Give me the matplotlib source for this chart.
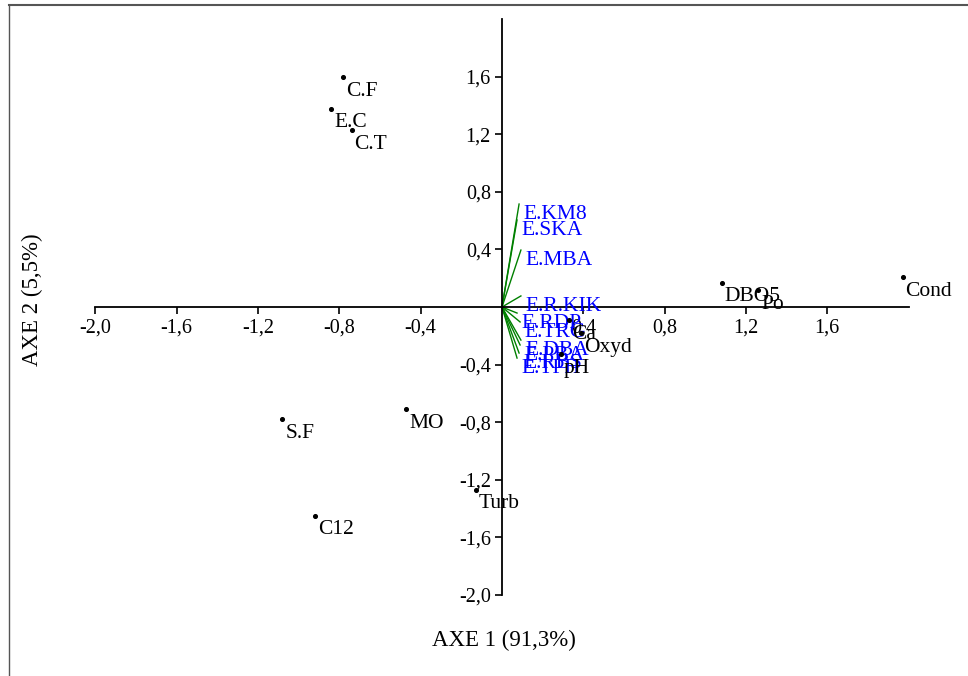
import matplotlib
matplotlib.use('Agg')
import matplotlib.pyplot as plt
from matplotlib.lines import Line2D

plt.rcParams['font.family'] = ['Liberation Serif', 'DejaVu Serif']

# variables (black points)
var_names = ['C.F', 'E.C', 'C.T', 'S.F', 'MO', 'Turb', 'C12', 'DBO5', 'Po', 'Cond', 'Ca', 'Oxyd', 'pH']
var_x = [-0.78, -0.84, -0.74, -1.08, -0.47, -0.13, -0.92, 1.08, 1.26, 1.97, 0.33, 0.39, 0.29]
var_y = [1.60, 1.38, 1.23, -0.78, -0.71, -1.27, -1.45, 0.17, 0.12, 0.21, -0.09, -0.18, -0.33]

# species (green vectors, blue labels)
sp_names = ['E.KM8', 'E.SKA', 'E.MBA', 'E.R.KIK', 'E.RDP', 'E.TRG', 'E.DBA', 'E.PBA', 'E.RBS', 'E.TPH']
sp_x = [0.084, 0.074, 0.093, 0.093, 0.074, 0.089, 0.093, 0.089, 0.084, 0.074]
sp_y = [0.716, 0.605, 0.396, 0.077, -0.042, -0.104, -0.23, -0.264, -0.32, -0.355]

xticks = [-2.0, -1.6, -1.2, -0.8, -0.4, 0.4, 0.8, 1.2, 1.6]
yticks = [-2.0, -1.6, -1.2, -0.8, -0.4, 0.4, 0.8, 1.2, 1.6]

fs_tick = 14.5
fs_pt = 15.5
fs_axis = 16.5

fig = plt.figure(figsize=(9.68, 6.76), dpi=100)
ax = fig.add_axes([0, 0, 1, 1])
ax.set_xlim(-2.469, 2.292)
ax.set_ylim(-2.566, 2.135)

for s in ['top', 'right']:
    ax.spines[s].set_visible(False)
ax.spines['left'].set_position(('data', 0))
ax.spines['bottom'].set_position(('data', 0))
ax.spines['left'].set_bounds(-2.0, 2.0)
ax.spines['bottom'].set_bounds(-2.0, 2.0)
ax.spines['left'].set_linewidth(1.3)
ax.spines['bottom'].set_linewidth(1.3)

ax.set_xticks(xticks)
ax.set_yticks(yticks)
ax.set_xticklabels([('%.1f' % t).replace('.', ',') for t in xticks])
ax.set_yticklabels([('%.1f' % t).replace('.', ',') for t in yticks])
ax.tick_params(direction='out', length=5, width=1.2, labelsize=fs_tick, pad=3)
ax.patch.set_visible(False)

# green vectors
for i in range(len(sp_names)):
    ax.plot([0, sp_x[i]], [0, sp_y[i]], color='#008000', lw=1.0, zorder=2)
    ax.annotate(sp_names[i], (sp_x[i], sp_y[i]), xytext=(3, -1), textcoords='offset points',
                ha='left', va='top', color='#0000ff', fontsize=fs_pt, zorder=3)

# variable points
ax.scatter(var_x, var_y, s=7, marker='o', color='black', zorder=4)
for i in range(len(var_names)):
    ax.annotate(var_names[i], (var_x[i], var_y[i]), xytext=(2, -3.5), textcoords='offset points',
                ha='left', va='top', color='black', fontsize=fs_pt, zorder=4)

fig.text(504 / 968, 1 - 640 / 676, 'AXE 1 (91,3%)', ha='center', va='center', fontsize=fs_axis)
fig.text(32 / 968, 1 - 300 / 676, 'AXE 2 (5,5%)', ha='center', va='center', rotation=90, fontsize=fs_axis)

# frame around the picture
fig.add_artist(Line2D([9 / 968, 1], [1 - 5 / 676, 1 - 5 / 676], color='#555555', lw=1.5))
fig.add_artist(Line2D([9 / 968, 9 / 968], [0, 1 - 5 / 676], color='#555555', lw=1.0))

fig.savefig('out.png', dpi=100)
